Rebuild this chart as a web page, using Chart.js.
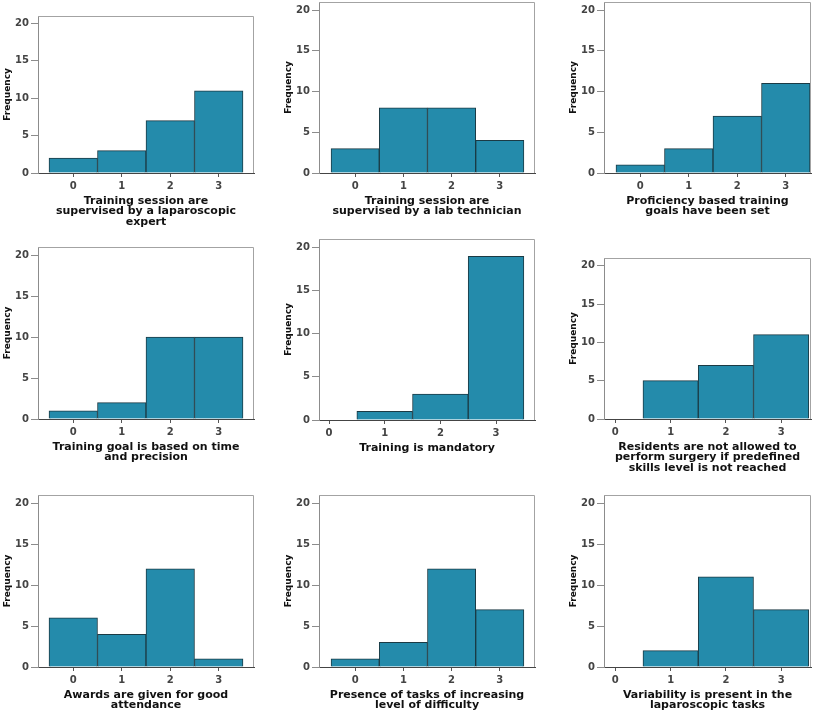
<!DOCTYPE html>
<html>
<head>
<meta charset="utf-8">
<title>Laparoscopic training survey</title>
<script src="https://cdn.jsdelivr.net/npm/chart.js@4.4.1/dist/chart.umd.min.js"></script>
<style>
  html, body { margin: 0; padding: 0; background: #fff; }
  #page { position: relative; width: 822px; height: 711px; overflow: hidden; background: #fff; }
  #page canvas { position: absolute; }
</style>
</head>
<body>
<div id="page"></div>
<script>
// answer score on the x axis, and the frequency ticks
const categories = [0, 1, 2, 3];
const yTicks = [0, 5, 10, 15, 20];

// frequency of each score, one array per item
const supervisedExpert = [2, 3, 7, 11];
const supervisedTechnician = [3, 8, 8, 4];
const proficiencyGoals = [1, 3, 7, 11];
const timePrecisionGoal = [1, 2, 10, 10];
const mandatoryTraining = [0, 1, 3, 19];
const skillsLevelRequired = [0, 5, 7, 11];
const attendanceAwards = [6, 4, 12, 1];
const increasingDifficulty = [1, 3, 12, 7];
const taskVariability = [0, 2, 11, 7];

// item labels (x axis titles)
const titleExpert = ['Training session are', 'supervised by a laparoscopic', 'expert'];
const titleTechnician = ['Training session are', 'supervised by a lab technician'];
const titleProficiency = ['Proficiency based training', 'goals have been set'];
const titleTimePrecision = ['Training goal is based on time', 'and precision'];
const titleMandatory = ['Training is mandatory'];
const titleSkills = ['Residents are not allowed to', 'perform surgery if predefined', 'skills level is not reached'];
const titleAwards = ['Awards are given for good', 'attendance'];
const titleDifficulty = ['Presence of tasks of increasing', 'level of difficulty'];
const titleVariability = ['Variability is present in the', 'laparoscopic tasks'];

// where each plot box sits on the page: [left, right, top, bottom] and its x range
const panels = [
  { values: supervisedExpert, title: titleExpert, box: [38, 254, 16, 173], xRange: [-0.727, 3.727] },
  { values: supervisedTechnician, title: titleTechnician, box: [319, 535, 2, 173], xRange: [-0.75, 3.73] },
  { values: proficiencyGoals, title: titleProficiency, box: [604, 811, 2, 173], xRange: [-0.747, 3.52] },
  { values: timePrecisionGoal, title: titleTimePrecision, box: [38, 254, 247, 419], xRange: [-0.727, 3.727] },
  { values: mandatoryTraining, title: titleMandatory, box: [319, 535, 239, 420], xRange: [-0.18, 3.7] },
  { values: skillsLevelRequired, title: titleSkills, box: [604, 811, 258, 419], xRange: [-0.205, 3.54] },
  { values: attendanceAwards, title: titleAwards, box: [38, 254, 495, 667], xRange: [-0.727, 3.727] },
  { values: increasingDifficulty, title: titleDifficulty, box: [319, 535, 495, 667], xRange: [-0.75, 3.73] },
  { values: taskVariability, title: titleVariability, box: [604, 811, 495, 667], xRange: [-0.205, 3.54] }
];

const barFill = '#248bab';
const barEdge = '#1b3a44';
const FONT = 'DejaVu Sans';
const titleLine = 10.6;

// top and right edges of the plot frame
const framePlugin = {
  id: 'frame',
  afterDraw(chart) {
    const a = chart.chartArea;
    const ctx = chart.ctx;
    const top = Math.round(a.top) + 0.5;
    const right = Math.round(a.right) - 0.5;
    ctx.save();
    ctx.strokeStyle = '#a3a3a3';
    ctx.lineWidth = 1;
    ctx.beginPath();
    ctx.moveTo(a.left, top);
    ctx.lineTo(right, top);
    ctx.lineTo(right, a.bottom);
    ctx.stroke();
    ctx.restore();
  }
};

const page = document.getElementById('page');

panels.forEach(function (p) {
  const [L, R, T, B] = p.box;
  const canvas = document.createElement('canvas');
  canvas.width = R - L + 44;
  canvas.height = B - T + 72;
  canvas.style.left = (L - 40) + 'px';
  canvas.style.top = (T - 10) + 'px';
  page.appendChild(canvas);

  new Chart(canvas.getContext('2d'), {
    type: 'bar',
    data: {
      datasets: [{
        data: categories.map((c, i) => ({ x: c, y: p.values[i] })),
        backgroundColor: barFill,
        borderColor: barEdge,
        borderWidth: 1,
        barPercentage: 1,
        categoryPercentage: 1
      }]
    },
    options: {
      responsive: false,
      animation: false,
      layout: { padding: { left: 2, top: 10, right: 4, bottom: 2 } },
      plugins: {
        legend: { display: false },
        tooltip: { enabled: false }
      },
      scales: {
        x: {
          type: 'linear',
          offset: false,
          min: p.xRange[0],
          max: p.xRange[1],
          afterBuildTicks: scale => { scale.ticks = categories.map(v => ({ value: v })); },
          afterFit: scale => { scale.height = 60; },
          grid: { offset: false, drawOnChartArea: false, tickLength: 4, color: '#555' },
          border: { color: '#444' },
          ticks: { font: { family: FONT, size: 10, weight: 'bold' }, color: '#444', padding: 3, maxRotation: 0, autoSkip: false },
          title: {
            display: true,
            text: p.title,
            color: '#111',
            font: { family: FONT, size: 11, weight: 'bold', lineHeight: titleLine / 11 },
            padding: { top: 0, bottom: 26.75 - titleLine * (p.title.length - 1) }
          }
        },
        y: {
          min: 0,
          max: 21,
          afterBuildTicks: scale => { scale.ticks = yTicks.map(v => ({ value: v })); },
          afterFit: scale => { scale.width = 38; },
          grid: { drawOnChartArea: false, tickLength: 7, color: '#8c8c8c' },
          border: { color: '#8c8c8c' },
          ticks: { font: { family: FONT, size: 10, weight: 'bold' }, color: '#444', padding: 2 },
          title: {
            display: true,
            text: 'Frequency',
            color: '#111',
            font: { family: FONT, size: 9, weight: 'bold', lineHeight: 1 },
            padding: { top: 3.5, bottom: 0 }
          }
        }
      }
    },
    plugins: [framePlugin]
  });
});
</script>
</body>
</html>
